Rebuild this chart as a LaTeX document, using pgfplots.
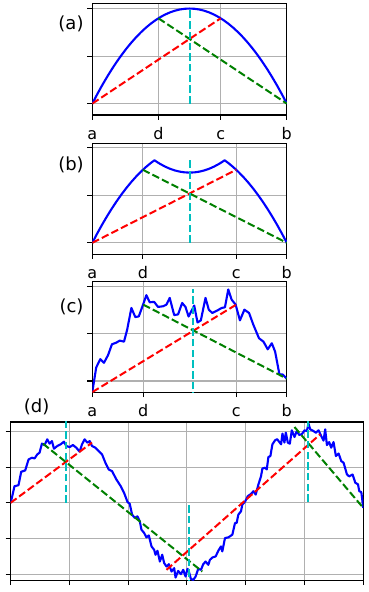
\documentclass[border=0pt]{standalone}
\usepackage{fontspec}
\setmainfont{DejaVu Sans}
\usepackage{pgfplots}
\pgfplotsset{compat=1.18}
\definecolor{gridgray}{RGB}{176,176,176}
\definecolor{mgreen}{RGB}{0,128,0}
\definecolor{mcyan}{RGB}{0,191,191}
\pgfplotsset{
  panel/.style={
    scale only axis,
    axis line style={black, line width=1.1pt},
    grid=major,
    major grid style={gridgray, line width=1.1pt},
    tick align=outside,
    major tick length=4.8pt,
    tick style={black, line width=1.1pt},
    xtick pos=bottom, ytick pos=left,
    xticklabel style={font=\fontsize{16}{19}\selectfont, anchor=base, yshift=-19.5pt, inner sep=0pt},
    yticklabel={\relax},
  },
  bl/.style={blue, line width=2.1pt, line join=round},
  rd/.style={red, line width=2pt, dash pattern=on 7.5pt off 3.2pt},
  gr/.style={mgreen, line width=2pt, dash pattern=on 7.5pt off 3.2pt},
  cy/.style={mcyan, line width=2pt, dash pattern=on 7.5pt off 3.2pt},
}
\tikzset{plab/.style={anchor=base, font=\fontsize{18}{21}\selectfont, inner sep=0pt}}
\begin{document}
\begin{tikzpicture}
\useasboundingbox (0pt,0pt) rectangle (369pt,592pt);
% ---------- (a)
\begin{axis}[panel, at={(92.3pt,477pt)}, anchor=south west, width=194.5pt, height=111.2pt,
  xmin=0, xmax=1, ymin=-0.12, ymax=1.05,
  xtick={0,0.34,0.66,1}, xticklabels={a,d,c,b}, ytick={0,0.5,1}]
\addplot[bl] coordinates {(0,0) (0.025,0.0975) (0.05,0.19) (0.075,0.2775) (0.1,0.36) (0.125,0.4375) (0.15,0.51) (0.175,0.5775) (0.2,0.64) (0.225,0.6975) (0.25,0.75) (0.275,0.7975) (0.3,0.84) (0.325,0.8775) (0.35,0.91) (0.375,0.9375) (0.4,0.96) (0.425,0.9775) (0.45,0.99) (0.475,0.9975) (0.5,1) (0.525,0.9975) (0.55,0.99) (0.575,0.9775) (0.6,0.96) (0.625,0.9375) (0.65,0.91) (0.675,0.8775) (0.7,0.84) (0.725,0.7975) (0.75,0.75) (0.775,0.6975) (0.8,0.64) (0.825,0.5775) (0.85,0.51) (0.875,0.4375) (0.9,0.36) (0.925,0.2775) (0.95,0.19) (0.975,0.0975) (1,0)};
\addplot[rd] coordinates {(0,0) (0.66,0.8976)};
\addplot[gr] coordinates {(0.34,0.8976) (1,0)};
\addplot[cy] coordinates {(0.5,0) (0.5,1)};
\end{axis}
\node[plab] at (71pt,562.6pt) {(a)};
% ---------- (b)
\begin{axis}[panel, at={(92.3pt,337.8pt)}, anchor=south west, width=194.5pt, height=111pt,
  xmin=0, xmax=1, ymin=-0.12, ymax=1.05,
  xtick={0,0.26,0.74,1}, xticklabels={a,d,c,b}, ytick={0,0.5,1}]
\addplot[bl] coordinates {(0,0) (0.025,0.0975) (0.05,0.19) (0.075,0.2775) (0.1,0.36) (0.125,0.4375) (0.15,0.51) (0.175,0.5775) (0.2,0.64) (0.225,0.6975) (0.25,0.75) (0.275,0.7975) (0.3,0.84) (0.3197,0.87) (0.335,0.8489) (0.35,0.83) (0.375,0.8025) (0.4,0.78) (0.425,0.7625) (0.45,0.75) (0.475,0.7425) (0.5,0.74) (0.525,0.7425) (0.55,0.75) (0.575,0.7625) (0.6,0.78) (0.625,0.8025) (0.65,0.83) (0.665,0.8489) (0.6803,0.87) (0.7,0.84) (0.725,0.7975) (0.75,0.75) (0.775,0.6975) (0.8,0.64) (0.825,0.5775) (0.85,0.51) (0.875,0.4375) (0.9,0.36) (0.925,0.2775) (0.95,0.19) (0.975,0.0975) (1,0)};
\addplot[rd] coordinates {(0,0) (0.74,0.7696)};
\addplot[gr] coordinates {(0.26,0.7696) (1,0)};
\addplot[cy] coordinates {(0.5,0) (0.5,0.87)};
\end{axis}
\node[plab] at (71pt,421.6pt) {(b)};
% ---------- (c)
\begin{axis}[panel, at={(92.3pt,199.6pt)}, anchor=south west, width=194.5pt, height=111pt,
  xmin=0, xmax=1, ymin=-0.12, ymax=1.05,
  xtick={0,0.262,0.74,1}, xticklabels={a,d,c,b}, ytick={0,0.5,1}]
\addplot[bl] coordinates {(0,-0.117) (0.020,0.142) (0.041,0.231) (0.060,0.192) (0.081,0.273) (0.101,0.387) (0.124,0.405) (0.141,0.426) (0.163,0.415) (0.179,0.539) (0.201,0.770) (0.221,0.674) (0.239,0.681) (0.261,0.805) (0.278,0.905) (0.295,0.830) (0.318,0.834) (0.338,0.781) (0.364,0.788) (0.381,0.805) (0.398,0.876) (0.421,0.695) (0.441,0.702) (0.462,0.823) (0.479,0.781) (0.495,0.68) (0.524,0.795) (0.541,0.617) (0.558,0.639) (0.582,0.876) (0.599,0.752) (0.617,0.717) (0.644,0.745) (0.665,0.770) (0.682,0.777) (0.699,0.965) (0.716,0.859) (0.737,0.805) (0.759,0.639) (0.782,0.752) (0.806,0.717) (0.828,0.593) (0.857,0.451) (0.880,0.415) (0.902,0.334) (0.923,0.398) (0.940,0.309) (0.962,0.071) (0.979,0.068) (1.0,0.025)};
\addplot[rd] coordinates {(0,-0.117) (0.74,0.805)};
\addplot[gr] coordinates {(0.262,0.805) (1,0.025)};
\addplot[cy] coordinates {(0.52,-0.2) (0.52,0.965)};
\end{axis}
\node[plab] at (71.5pt,279.3pt) {(c)};
% ---------- (d)
\begin{axis}[panel, at={(10.5pt,11.8pt)}, anchor=south west, width=352.8pt, height=158.2pt,
  xmin=0, xmax=6, ymin=-1.08, ymax=1.13,
  xtick={0,1,2,3,4,5,6}, xticklabel={\relax}, ytick={-1,-0.5,0,0.5,1}]
\addplot[bl] coordinates {(0,0) (0.023,0.07) (0.068,0.233) (0.136,0.247) (0.182,0.435) (0.25,0.453) (0.307,0.607) (0.364,0.631) (0.409,0.621) (0.455,0.677) (0.494,0.701) (0.534,0.827) (0.58,0.808) (0.625,0.888) (0.665,0.827) (0.705,0.864) (0.739,0.757) (0.795,0.794) (0.852,0.818) (0.909,0.855) (0.949,0.794) (1.006,0.78) (1.062,0.808) (1.119,0.771) (1.176,0.715) (1.216,0.818) (1.261,0.888) (1.307,0.841) (1.347,0.864) (1.386,0.794) (1.443,0.771) (1.5,0.724) (1.557,0.677) (1.614,0.561) (1.67,0.467) (1.727,0.443) (1.801,0.327) (1.875,0.233) (1.932,0.14) (1.989,0.014) (2.028,-0.014) (2.068,-0.164) (2.114,-0.21) (2.159,-0.188) (2.199,-0.258) (2.227,-0.374) (2.273,-0.42) (2.312,-0.482) (2.352,-0.454) (2.398,-0.608) (2.443,-0.655) (2.466,-0.725) (2.5,-0.669) (2.54,-0.819) (2.58,-0.725) (2.614,-0.842) (2.653,-0.889) (2.693,-0.856) (2.739,-0.959) (2.784,-0.912) (2.807,-1.043) (2.852,-0.95) (2.898,-0.996) (2.938,-0.935) (2.977,-1.029) (3.011,-0.921) (3.034,-0.959) (3.068,-1.062) (3.108,-1.076) (3.148,-1.029) (3.193,-0.921) (3.239,-0.935) (3.278,-0.856) (3.318,-0.819) (3.364,-0.865) (3.392,-0.795) (3.432,-0.763) (3.489,-0.748) (3.534,-0.669) (3.579,-0.608) (3.602,-0.678) (3.648,-0.491) (3.705,-0.482) (3.773,-0.444) (3.818,-0.281) (3.846,-0.28) (3.875,-0.164) (3.92,-0.117) (3.943,-0.024) (3.989,0.018) (4.034,0.093) (4.091,0.126) (4.131,0.163) (4.17,0.116) (4.216,0.257) (4.261,0.373) (4.284,0.481) (4.33,0.491) (4.358,0.467) (4.386,0.64) (4.42,0.654) (4.454,0.818) (4.5,0.874) (4.534,0.89) (4.568,0.855) (4.602,0.818) (4.625,0.968) (4.659,0.842) (4.682,0.982) (4.716,0.842) (4.75,0.827) (4.784,1.014) (4.83,0.92) (4.869,1.004) (4.909,0.949) (4.955,0.96) (5.0,1.014) (5.04,1.004) (5.068,1.108) (5.097,1.028) (5.153,1.004) (5.193,0.98) (5.239,1.014) (5.284,0.934) (5.324,0.87) (5.352,1.028) (5.381,0.808) (5.42,0.85) (5.454,0.771) (5.494,0.85) (5.534,0.654) (5.58,0.69) (5.625,0.584) (5.665,0.56) (5.722,0.397) (5.76,0.37) (5.818,0.397) (5.864,0.281) (5.909,0.26) (5.932,0.163) (5.966,0.15) (6.0,-0.07)};
\addplot[rd] coordinates {(0,0) (1.386,0.842)};
\addplot[gr] coordinates {(0.551,0.828) (3.261,-0.959)};
\addplot[rd] coordinates {(2.653,-0.935) (5.267,0.958)};
\addplot[gr] coordinates {(4.83,1.06) (6,-0.07)};
\addplot[cy] coordinates {(0.945,0) (0.945,1.3)};
\addplot[cy] coordinates {(3.034,-0.033) (3.034,-1.3)};
\addplot[cy] coordinates {(5.057,0.014) (5.057,1.3)};
\end{axis}
\node[plab] at (36.7pt,179.3pt) {(d)};
\end{tikzpicture}
\end{document}
